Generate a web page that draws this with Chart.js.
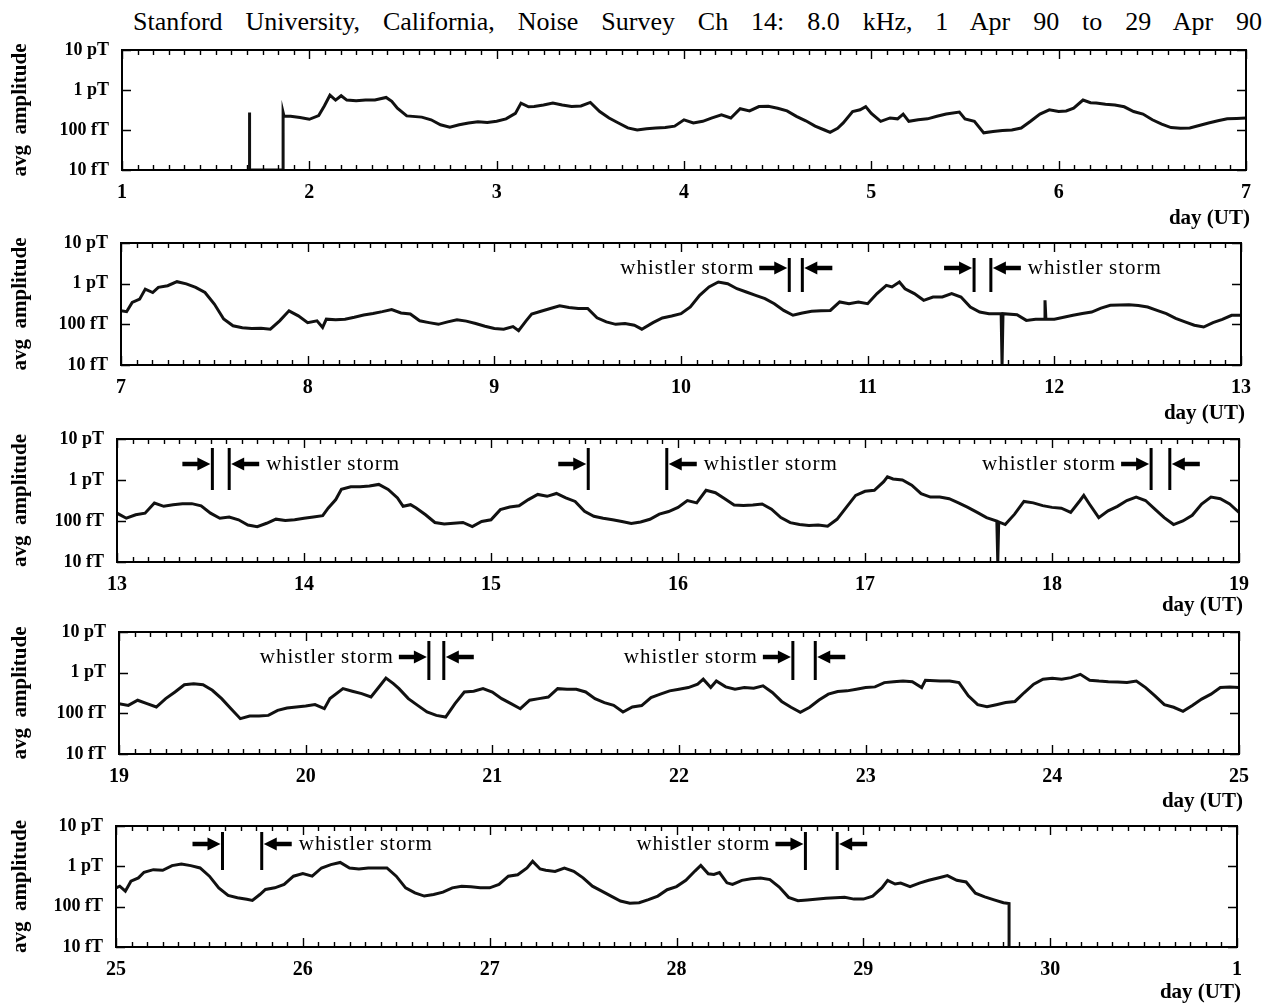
<!DOCTYPE html>
<html>
<head>
<meta charset="utf-8">
<script src="https://cdn.jsdelivr.net/npm/chart.js@4.4.1/dist/chart.umd.min.js"></script>
<style>
  html, body { margin:0; padding:0; background:#fff; }
  #wrap { position:relative; width:1274px; height:1006px; overflow:hidden; background:#fff; }
  #title { position:absolute; left:133px; top:6px; width:1129px; font-family:"Liberation Serif","DejaVu Serif",serif; font-size:26px; color:#000; text-align:justify; text-align-last:justify; white-space:nowrap; line-height:32px; }
  canvas { position:absolute; left:0; }
</style>
</head>
<body>
<div id="wrap">
  <div id="title">Stanford University, California, Noise Survey Ch 14: 8.0 kHz, 1 Apr 90 to 29 Apr 90</div>
  <canvas id="c1" width="1274" height="196"></canvas>
  <canvas id="c2" width="1274" height="196"></canvas>
  <canvas id="c3" width="1274" height="192"></canvas>
  <canvas id="c4" width="1274" height="196"></canvas>
  <canvas id="c5" width="1274" height="192"></canvas>
</div>
<script>
// ---------- DATA ----------
const yTickValues = [10, 100, 1000, 10000];
const yTickLabels = ['10 fT', '100 fT', '1 pT', '10 pT'];

const xTickLabelsP1 = ['1','2','3','4','5','6','7'];
const xTickLabelsP2 = ['7','8','9','10','11','12','13'];
const xTickLabelsP3 = ['13','14','15','16','17','18','19'];
const xTickLabelsP4 = ['19','20','21','22','23','24','25'];
const xTickLabelsP5 = ['25','26','27','28','29','30','1'];

// day of April (UT) and average amplitude (fT)
const daysP1 = [1.68,1.68,1.682,1.86,1.86,1.865,1.9,1.95,2.0,2.05,2.08,2.11,2.14,2.17,2.2,2.25,2.3,2.35,2.41,2.44,2.47,2.52,2.6,2.65,2.7,2.75,2.8,2.85,2.9,2.95,3.0,3.05,3.1,3.13,3.17,3.2,3.25,3.3,3.35,3.4,3.45,3.5,3.55,3.6,3.65,3.7,3.75,3.8,3.85,3.9,3.95,4.0,4.05,4.1,4.15,4.2,4.25,4.3,4.35,4.4,4.45,4.5,4.55,4.6,4.65,4.7,4.75,4.78,4.82,4.85,4.9,4.94,4.97,5.0,5.05,5.1,5.14,5.17,5.2,5.25,5.3,5.35,5.4,5.47,5.5,5.55,5.6,5.65,5.7,5.75,5.8,5.85,5.9,5.95,6.0,6.04,6.08,6.13,6.17,6.2,6.25,6.3,6.35,6.4,6.45,6.5,6.55,6.6,6.65,6.7,6.75,6.8,6.85,6.9,6.95,7.0];
const ampP1 = [10,275,10,10,275,220,220,205,185,230,400,740,560,720,560,540,560,560,650,520,350,225,210,180,135,118,135,150,160,155,165,190,260,470,380,385,420,470,420,385,400,490,290,200,150,113,100,108,112,115,125,180,150,165,200,240,200,340,300,385,390,350,300,220,170,125,100,87,110,150,290,320,385,260,165,200,190,250,165,180,190,220,250,280,190,165,85,92,97,100,112,165,250,320,290,300,350,560,480,470,440,420,380,290,250,180,140,115,110,112,130,150,170,190,195,200];

const daysP2 = [7.0,7.03,7.06,7.1,7.13,7.17,7.2,7.25,7.3,7.35,7.4,7.45,7.5,7.55,7.6,7.65,7.7,7.75,7.8,7.85,7.9,7.95,8.0,8.05,8.08,8.1,8.15,8.2,8.25,8.3,8.35,8.4,8.45,8.5,8.55,8.6,8.65,8.7,8.75,8.8,8.85,8.9,8.95,9.0,9.05,9.1,9.13,9.17,9.2,9.25,9.3,9.35,9.4,9.45,9.5,9.55,9.6,9.65,9.7,9.75,9.79,9.85,9.9,9.95,10.0,10.05,10.1,10.15,10.2,10.25,10.3,10.35,10.4,10.45,10.5,10.55,10.6,10.65,10.7,10.75,10.8,10.85,10.9,10.95,11.0,11.05,11.1,11.13,11.17,11.2,11.25,11.3,11.35,11.4,11.45,11.5,11.55,11.6,11.65,11.715,11.72,11.725,11.8,11.85,11.9,11.945,11.95,11.955,12.0,12.05,12.1,12.15,12.2,12.25,12.3,12.35,12.4,12.45,12.5,12.55,12.6,12.65,12.7,12.75,12.8,12.85,12.9,12.95,13.0];
const ampP2 = [215,205,345,415,735,605,810,890,1120,990,810,605,315,135,92,82,79,80,76,122,215,162,110,122,84,134,130,134,150,170,185,205,230,190,180,122,110,100,115,130,120,105,90,79,76,88,70,122,180,210,245,285,260,245,245,145,115,100,105,95,76,110,143,160,183,267,517,830,1100,1000,750,625,517,430,322,220,167,190,209,215,220,355,322,355,322,570,910,830,1100,750,570,390,470,470,570,470,267,200,183,183,10,183,173,125,133,133,390,133,133,150,167,185,200,250,293,300,305,290,267,220,183,140,115,95,86,110,133,167,167];

const daysP3 = [13.0,13.05,13.1,13.15,13.2,13.25,13.3,13.35,13.4,13.45,13.5,13.55,13.6,13.65,13.7,13.75,13.8,13.85,13.9,13.95,14.0,14.05,14.1,14.13,14.17,14.2,14.25,14.3,14.35,14.4,14.45,14.5,14.53,14.57,14.6,14.65,14.7,14.75,14.8,14.85,14.9,14.95,15.0,15.05,15.1,15.15,15.2,15.25,15.3,15.35,15.4,15.45,15.5,15.55,15.6,15.65,15.7,15.75,15.8,15.85,15.9,15.95,16.0,16.05,16.1,16.15,16.2,16.25,16.3,16.35,16.4,16.45,16.5,16.55,16.6,16.65,16.7,16.75,16.8,16.85,16.9,16.95,17.0,17.05,17.1,17.12,17.15,17.2,17.25,17.3,17.35,17.4,17.45,17.5,17.55,17.6,17.65,17.705,17.71,17.715,17.75,17.8,17.85,17.9,17.95,18.0,18.05,18.1,18.15,18.17,18.2,18.25,18.3,18.35,18.4,18.45,18.5,18.55,18.6,18.65,18.7,18.75,18.8,18.85,18.9,18.95,19.0];
const ampP3 = [155,117,142,155,275,228,250,265,265,235,155,117,125,107,80,73,88,111,103,107,117,125,135,208,333,590,685,685,710,780,590,366,228,250,208,142,92,85,88,92,73,97,107,189,220,235,333,445,400,470,366,300,172,130,117,107,97,87,95,110,147,170,215,316,277,560,490,350,245,240,245,260,195,121,91,82,78,80,75,110,215,420,530,560,910,1200,1060,1000,750,465,383,383,350,277,215,162,121,100,10,95,82,147,300,277,237,215,205,162,316,420,260,121,177,228,316,383,316,195,121,82,100,138,260,383,350,260,162];

const daysP4 = [19.0,19.05,19.1,19.15,19.2,19.25,19.3,19.35,19.4,19.45,19.5,19.55,19.6,19.65,19.7,19.75,19.8,19.85,19.9,19.95,20.0,20.05,20.1,20.13,20.2,20.25,20.3,20.35,20.4,20.43,20.47,20.5,20.55,20.6,20.65,20.7,20.75,20.8,20.85,20.9,20.95,21.0,21.05,21.1,21.15,21.2,21.25,21.3,21.35,21.4,21.45,21.5,21.55,21.6,21.65,21.7,21.75,21.8,21.85,21.9,21.95,22.0,22.05,22.1,22.13,22.17,22.2,22.25,22.3,22.35,22.4,22.45,22.5,22.55,22.6,22.65,22.7,22.75,22.8,22.85,22.9,22.95,23.0,23.05,23.1,23.15,23.2,23.25,23.3,23.32,23.4,23.45,23.5,23.55,23.6,23.65,23.7,23.75,23.8,23.85,23.9,23.95,24.0,24.05,24.1,24.15,24.2,24.25,24.3,24.35,24.4,24.45,24.5,24.55,24.6,24.65,24.7,24.75,24.8,24.85,24.9,24.95,25.0];
const ampP4 = [173,157,210,173,143,230,335,506,536,506,368,230,130,74,86,86,89,118,135,143,152,164,130,230,405,350,305,252,490,740,536,405,230,157,108,89,81,173,335,350,405,335,230,173,130,210,230,252,405,390,390,335,230,183,157,108,143,155,245,296,357,392,430,520,690,430,625,447,392,430,415,473,325,196,141,106,141,212,296,344,357,390,430,447,570,600,625,600,430,650,625,625,570,270,163,145,163,185,196,325,520,690,730,690,755,910,650,620,600,590,570,625,430,270,163,141,112,155,224,296,430,447,430];

const daysP5 = [25.0,25.02,25.05,25.08,25.12,25.15,25.2,25.25,25.3,25.35,25.4,25.45,25.5,25.55,25.6,25.65,25.7,25.73,25.77,25.8,25.85,25.9,25.95,26.0,26.05,26.1,26.15,26.2,26.25,26.3,26.35,26.4,26.45,26.5,26.55,26.6,26.65,26.7,26.75,26.8,26.85,26.9,26.95,27.0,27.05,27.1,27.15,27.2,27.23,27.27,27.3,27.35,27.4,27.45,27.5,27.55,27.6,27.65,27.7,27.75,27.8,27.85,27.9,27.95,28.0,28.05,28.1,28.13,28.17,28.2,28.23,28.27,28.3,28.35,28.4,28.45,28.5,28.55,28.6,28.65,28.7,28.8,28.9,28.95,29.0,29.05,29.1,29.13,29.17,29.2,29.25,29.3,29.35,29.4,29.45,29.5,29.55,29.6,29.65,29.7,29.75,29.78,29.78];
const ampP5 = [293,322,243,428,517,712,828,800,1040,1140,1040,910,570,293,190,167,152,143,200,267,293,355,570,660,570,910,1100,1250,910,860,910,910,910,570,293,220,183,200,230,293,322,310,293,293,355,570,620,910,1330,860,800,750,910,750,517,322,243,183,138,122,125,150,183,263,315,450,775,1050,655,630,700,390,355,450,495,515,470,307,170,141,147,162,170,154,154,183,295,450,365,385,315,385,450,515,590,450,410,215,175,147,125,120,10];

// whistler storm intervals: [start day, end day, label side]
const stormsP2 = [[10.58, 10.65, 'left'], [11.57, 11.66, 'right']];
const stormsP3 = [[13.51, 13.60, 'right'], [15.52, 15.94, 'right'], [18.53, 18.63, 'left']];
const stormsP4 = [[20.66, 20.74, 'left'], [22.61, 22.73, 'left']];
const stormsP5 = [[25.57, 25.78, 'right'], [28.69, 28.86, 'left']];
const stormLabel = ['whistler', 'storm'];
const xAxisLabel = 'day (UT)';
const yAxisLabel = 'avg  amplitude';

// ---------- LAYOUT ----------
const SERIF = '"Liberation Serif", "DejaVu Serif", serif';
const panels = [
  {id:'c1', days:daysP1, amp:ampP1, labels:xTickLabelsP1, start:1,  storms:[],       cTop:38,  plotTop:50,  plotBot:170, left:122, right:1246, dayY:219, barTop:0,  barBot:0,  arrowY:0},
  {id:'c2', days:daysP2, amp:ampP2, labels:xTickLabelsP2, start:7,  storms:stormsP2, cTop:231, plotTop:243, plotBot:365, left:121, right:1241, dayY:414, barTop:15, barBot:49, arrowY:25},
  {id:'c3', days:daysP3, amp:ampP3, labels:xTickLabelsP3, start:13, storms:stormsP3, cTop:426, plotTop:439, plotBot:562, left:117, right:1239, dayY:606, barTop:9,  barBot:51, arrowY:25},
  {id:'c4', days:daysP4, amp:ampP4, labels:xTickLabelsP4, start:19, storms:stormsP4, cTop:619, plotTop:632, plotBot:754, left:119, right:1239, dayY:802, barTop:9,  barBot:48, arrowY:25},
  {id:'c5', days:daysP5, amp:ampP5, labels:xTickLabelsP5, start:25, storms:stormsP5, cTop:814, plotTop:826, plotBot:947, left:116, right:1237, dayY:993, barTop:6,  barBot:44, arrowY:18}
];

const framePlugin = {
  id: 'frame',
  afterDraw(chart) {
    const P = chart.options.plugins.frame;
    const {ctx, chartArea: a} = chart;
    const x = chart.scales.x, y = chart.scales.y;
    ctx.save();
    ctx.strokeStyle = '#000';
    ctx.fillStyle = '#000';
    // box
    ctx.lineWidth = 2;
    ctx.strokeRect(a.left, a.top, a.right - a.left, a.bottom - a.top);
    // x ticks (2-hour minor, daily major), inward at top and bottom
    ctx.lineWidth = 1.4;
    ctx.beginPath();
    for (let i = 0; i <= 72; i++) {
      const px = Math.round(x.getPixelForValue(x.min + i / 12)) + 0.5;
      const len = (i % 12 === 0) ? 9 : 5;
      ctx.moveTo(px, a.bottom); ctx.lineTo(px, a.bottom - len);
      ctx.moveTo(px, a.top); ctx.lineTo(px, a.top + len);
    }
    // y ticks at decades, inward left and right
    yTickValues.forEach(v => {
      const py = Math.round(y.getPixelForValue(v)) + 0.5;
      ctx.moveTo(a.left, py); ctx.lineTo(a.left + 9, py);
      ctx.moveTo(a.right, py); ctx.lineTo(a.right - 9, py);
    });
    ctx.stroke();
    // axis label
    ctx.font = 'bold 21px ' + SERIF;
    ctx.textAlign = 'right';
    ctx.textBaseline = 'middle';
    ctx.fillText(xAxisLabel, a.right + 4, P.dayY);
    // whistler storms
    const ay = a.top + P.arrowY;
    const arrowLen = 30, textW = 134;
    P.storms.forEach(([d1, d2, side]) => {
      const x1 = x.getPixelForValue(d1), x2 = x.getPixelForValue(d2);
      ctx.lineWidth = 3;
      ctx.beginPath();
      ctx.moveTo(x1, a.top + P.barTop); ctx.lineTo(x1, a.top + P.barBot);
      ctx.moveTo(x2, a.top + P.barTop); ctx.lineTo(x2, a.top + P.barBot);
      ctx.stroke();
      // right-pointing arrow before x1
      ctx.lineWidth = 4.5;
      ctx.beginPath(); ctx.moveTo(x1 - arrowLen, ay); ctx.lineTo(x1 - 10, ay); ctx.stroke();
      ctx.beginPath(); ctx.moveTo(x1 - 2, ay); ctx.lineTo(x1 - 15, ay - 6.5); ctx.lineTo(x1 - 15, ay + 6.5); ctx.closePath(); ctx.fill();
      // left-pointing arrow after x2
      ctx.beginPath(); ctx.moveTo(x2 + arrowLen, ay); ctx.lineTo(x2 + 10, ay); ctx.stroke();
      ctx.beginPath(); ctx.moveTo(x2 + 2, ay); ctx.lineTo(x2 + 15, ay - 6.5); ctx.lineTo(x2 + 15, ay + 6.5); ctx.closePath(); ctx.fill();
      // label
      ctx.font = '21px ' + SERIF;
      ctx.letterSpacing = '1px';
      ctx.textBaseline = 'middle';
      const t0 = side === 'left' ? x1 - arrowLen - 5 - textW : x2 + arrowLen + 7;
      ctx.textAlign = 'left';  ctx.fillText(stormLabel[0], t0, ay);
      ctx.textAlign = 'right'; ctx.fillText(stormLabel[1], t0 + textW, ay);
      ctx.letterSpacing = '0px';
    });
    ctx.restore();
  }
};

panels.forEach(P => {
  const cv = document.getElementById(P.id);
  cv.style.top = P.cTop + 'px';
  const CH = cv.height;
  const xAxisH = CH - (P.plotBot - P.cTop);
  const tickFont = {family: SERIF, weight: 'bold', size: 20};
  new Chart(cv.getContext('2d'), {
    type: 'line',
    data: {
      datasets: [{
        data: P.days.map((d, i) => ({x: d, y: P.amp[i]})),
        borderColor: '#111',
        borderWidth: 3,
        pointRadius: 0,
        tension: 0,
        fill: false
      }]
    },
    options: {
      responsive: false,
      animation: false,
      devicePixelRatio: 1,
      layout: {padding: {top: P.plotTop - P.cTop, left: 0, right: 1274 - P.right, bottom: 0}},
      plugins: {
        legend: {display: false},
        tooltip: {enabled: false},
        frame: {storms: P.storms, dayY: P.dayY - P.cTop, barTop: P.barTop, barBot: P.barBot, arrowY: P.arrowY}
      },
      scales: {
        x: {
          type: 'linear', min: P.start, max: P.start + 6,
          afterBuildTicks: s => { s.ticks = P.labels.map((_, i) => ({value: P.start + i})); },
          afterFit: s => { s.height = xAxisH; s.paddingLeft = 0; s.paddingRight = 0; },
          ticks: {callback: (v, i) => P.labels[i], font: tickFont, color: '#000', padding: 11, maxRotation: 0, autoSkip: false},
          grid: {display: false, drawTicks: false},
          border: {display: false}
        },
        y: {
          type: 'logarithmic', min: 10, max: 10000,
          afterBuildTicks: s => { s.ticks = yTickValues.map(v => ({value: v})); },
          afterFit: s => { s.width = P.left; s.paddingTop = 0; s.paddingBottom = 0; },
          ticks: {callback: v => yTickLabels[yTickValues.indexOf(v)], font: {family: SERIF, weight: 'bold', size: 18}, color: '#000', padding: 13, autoSkip: false},
          grid: {display: false, drawTicks: false},
          border: {display: false},
          title: {display: true, text: yAxisLabel, color: '#000', font: {family: SERIF, weight: 'bold', size: 21}, padding: {top: 8, bottom: 0}}
        }
      }
    },
    plugins: [framePlugin]
  });
});
</script>
</body>
</html>
